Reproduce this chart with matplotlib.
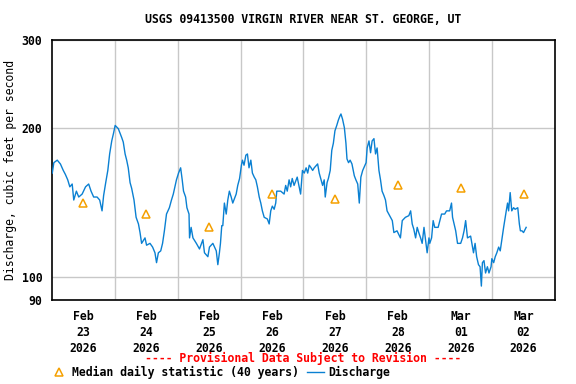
import matplotlib
matplotlib.use("Agg")
import matplotlib.pyplot as plt
from matplotlib.lines import Line2D

# hours since 2026-02-23 00:00 and discharge (cfs)
hours = [0.1, 0.7, 2.0, 3.2, 4.3, 5.1, 6.0, 6.8, 7.7, 8.3, 9.3, 10.2, 11.5, 12.8,
         14.0, 14.9, 15.9, 17.2, 18.2, 19.1, 19.7, 20.5, 21.3, 22.0, 22.8, 23.5,
         24.1, 25.3, 26.6, 27.2, 27.9, 28.5, 29.1, 29.8, 30.4, 31.3, 32.1, 33.0,
         33.6, 34.2, 35.5, 36.1, 37.4, 38.4, 39.3, 39.9, 40.6, 41.5, 42.2, 42.9,
         43.7, 44.8, 45.6, 46.3, 46.9, 47.5, 48.3,
         49.1, 49.7, 50.2, 51.0, 51.5, 52.3, 52.5, 53.1, 53.8, 55.1, 56.3, 57.6,
         58.2, 59.5, 60.1, 61.4, 62.7, 63.3, 63.9, 64.3, 64.8, 65.2, 65.8, 66.5,
         67.1, 67.7, 68.4, 69.0, 70.3, 70.9, 71.6, 72.3,
         72.7, 73.3, 74.0, 74.6, 75.2, 75.9, 76.5, 77.2, 77.8, 78.4, 79.1, 79.7,
         80.3, 81.0, 82.2, 82.9, 83.5, 84.1, 84.8, 85.4, 85.8, 87.3, 88.6, 89.2,
         89.8, 90.5, 91.1, 91.7, 92.4, 93.6, 94.9, 95.6,
         96.3, 97.0, 97.6, 98.2, 98.9, 99.5, 100.1, 101.4, 102.0, 102.7, 103.3,
         103.9, 104.3, 105.0, 105.5, 106.2, 106.8, 107.4, 108.0, 108.7, 109.3,
         109.9, 110.3, 110.9, 111.6, 112.2, 112.6, 113.2, 113.8, 114.5, 115.4,
         116.0, 116.7, 117.3, 117.9, 118.6, 119.9,
         120.3, 121.0, 121.6, 122.2, 122.9, 123.5, 124.1, 124.8, 125.4, 126.0,
         126.7, 127.3, 127.9, 129.2, 129.9, 130.5, 131.7, 133.0, 133.7, 134.9,
         136.2, 136.9, 137.5, 138.1, 138.8, 139.4, 140.0, 140.7, 141.3, 142.0,
         142.6, 143.2, 143.9,
         144.2, 144.9, 145.5, 146.1, 147.4, 148.7, 149.9, 150.6, 151.8, 152.5,
         152.9, 153.5, 154.1, 154.8, 156.0, 156.7, 157.3, 157.9, 158.6, 159.8,
         160.9, 161.5, 162.1, 162.8, 163.4, 163.9, 164.3, 164.9, 165.5, 166.2,
         166.8, 167.6,
         167.9, 168.6, 169.2, 169.8, 170.5, 171.1, 171.8, 172.4, 173.0, 173.4,
         173.9, 174.3, 174.9, 175.5, 176.2, 176.8, 177.8, 178.4, 178.8, 179.4,
         180.0, 180.7, 181.0]
discharge = [162, 170, 172, 169, 164, 161, 157, 152, 154, 143, 149, 145, 147, 152,
             154, 149, 145, 145, 143, 136, 146, 155, 164, 177, 188, 195,
             202, 199, 191, 187, 177, 172, 166, 155, 151, 143, 132, 128,
             123, 117, 120, 116, 117, 115, 112, 107, 112, 113, 117, 124,
             134, 138, 143, 147, 152, 157, 162,
             166, 157, 149, 145, 138, 134, 120, 126, 120, 117, 114, 119,
             112, 110, 115, 117, 113, 106, 112, 117, 127, 127, 141, 134,
             143, 149, 145, 141, 147, 153, 158, 168,
             172, 168, 176, 177, 166, 172, 162, 159, 157, 152, 145, 141,
             136, 132, 131, 128, 136, 139, 137, 141, 149, 149, 147, 153,
             149, 157, 152, 158, 153, 159, 147, 164,
             162, 166, 162, 168, 166, 164, 166, 169, 162, 157, 153,
             157, 145, 155, 158, 164, 180, 186, 197, 202, 207,
             211, 213, 208, 200, 186, 173, 170, 172, 169, 160,
             157, 154, 141, 159, 164, 170,
             182, 188, 178, 188, 190, 177, 182, 164, 157, 149,
             146, 143, 136, 132, 130, 123, 124, 120, 130, 132,
             133, 136, 128, 125, 120, 126, 123, 120, 117, 126,
             119, 112, 120,
             117, 120, 130, 126, 126, 134, 134, 136, 136, 141,
             132, 128, 124, 117, 117, 120, 124, 130, 120, 121,
             112, 117, 110, 106, 105, 96, 107, 108, 102, 105,
             102, 105,
             109, 107, 110, 112, 115, 113, 120, 126, 132, 136,
             141, 136, 148, 136, 138, 137, 138, 128, 124, 124,
             123, 125, 126]

# median daily statistic, plotted at noon of each day
median_hours = [12, 36, 60, 84, 108, 132, 156, 180]
median_values = [141, 134, 126, 147, 144, 153, 151, 147]

day_labels = ["Feb\n23\n2026", "Feb\n24\n2026", "Feb\n25\n2026", "Feb\n26\n2026",
              "Feb\n27\n2026", "Feb\n28\n2026", "Mar\n01\n2026", "Mar\n02\n2026"]
y_ticks = [90, 100, 200, 300]

plt.rcParams['font.family'] = 'DejaVu Sans Mono'
plt.rcParams['font.weight'] = 'bold'
fs = 8.3

fig = plt.figure(figsize=(5.76, 3.84), dpi=100)
ax = fig.add_axes([0.0903, 0.2187, 0.8732, 0.6771])

blue = '#0a80d2'
orange = '#f5a000'

ax.plot(hours, discharge, color=blue, lw=1.0, zorder=3)
ax.plot(median_hours, median_values, ls='none', marker='^', ms=6,
        mfc='none', mec=orange, mew=1.1, zorder=4)

ax.set_yscale('log')
ax.set_ylim(90, 300)
ax.set_yticks(y_ticks)
ax.set_yticklabels([str(v) for v in y_ticks])
ax.yaxis.set_minor_locator(plt.NullLocator())
ax.set_xlim(0, 192)
ax.set_xticks(median_hours)
ax.set_xticklabels(day_labels, linespacing=1.3)
ax.set_xticks(range(24, 192, 24), minor=True)

ax.tick_params(axis='both', which='both', length=0, labelsize=fs)
ax.tick_params(axis='x', pad=7)
ax.tick_params(axis='y', pad=7)
ax.grid(True, axis='x', which='minor', color='#c8c8c8', lw=1.0)
ax.grid(True, axis='y', which='major', color='#c8c8c8', lw=1.0)
ax.grid(False, axis='x', which='major')
for s in ax.spines.values():
    s.set_linewidth(1.2)
    s.set_color('black')

ax.set_ylabel('Discharge, cubic feet per second', fontsize=fs, labelpad=3)

cx = 0.0903 + 0.8732 / 2
fig.text(cx, 0.948, 'USGS 09413500 VIRGIN RIVER NEAR ST. GEORGE, UT',
         ha='center', va='center', fontsize=fs)
fig.text(cx, 0.066, '---- Provisional Data Subject to Revision ----',
         ha='center', va='center', fontsize=fs, color='red')

handles = [Line2D([], [], ls='none', marker='^', ms=6, mfc='none', mec=orange, mew=1.1),
           Line2D([], [], color=blue, lw=1.0)]
fig.legend(handles, ['Median daily statistic (40 years)', 'Discharge'],
           loc='center left', bbox_to_anchor=(0.088, 0.031), ncol=2, frameon=False,
           fontsize=fs, handlelength=1.5, handletextpad=0.35, columnspacing=0.7,
           borderpad=0, borderaxespad=0)

fig.savefig('out.png', dpi=100)
